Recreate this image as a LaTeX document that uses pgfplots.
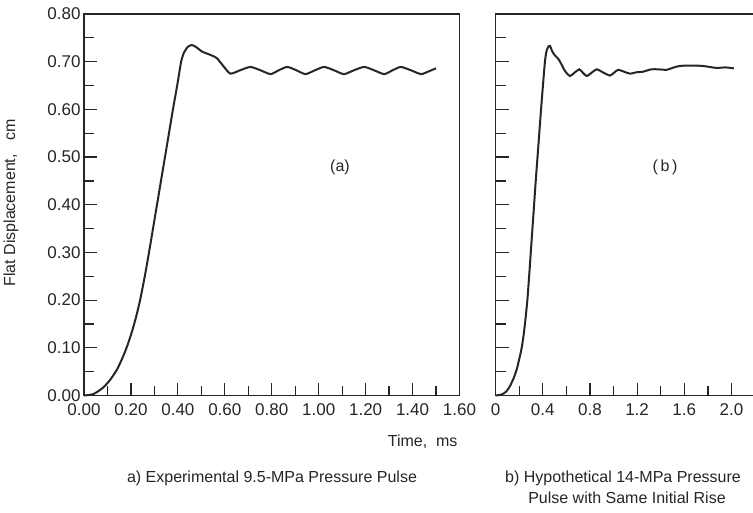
\documentclass[border=0pt]{standalone}
\usepackage{pgfplots}
\pgfplotsset{compat=1.18}
\usepackage{pgfplotstable}
\usepackage{fontspec}
\setmainfont{Liberation Sans}
\definecolor{ink}{HTML}{262626}

\pgfplotstableread{
t y
0 0
0.04 0.003
0.08 0.016
0.11 0.032
0.14 0.054
0.165 0.08
0.185 0.105
0.205 0.135
0.222 0.165
0.239 0.20
0.259 0.25
0.277 0.30
0.294 0.35
0.311 0.40
0.328 0.45
0.345 0.50
0.362 0.55
0.379 0.60
0.397 0.65
0.414 0.70
0.426 0.719
0.442 0.731
0.46 0.735
0.48 0.730
0.50 0.722
0.524 0.717
0.545 0.713
0.567 0.707
0.595 0.690
0.624 0.675
0.665 0.682
0.709 0.689
0.752 0.682
0.795 0.674
0.83 0.682
0.866 0.689
0.905 0.682
0.944 0.674
0.984 0.682
1.023 0.689
1.065 0.682
1.108 0.674
1.15 0.682
1.194 0.689
1.236 0.682
1.279 0.674
1.315 0.682
1.35 0.689
1.393 0.682
1.436 0.674
1.47 0.680
1.50 0.686
}\dataA

\pgfplotstableread{
t y
0 0
0.05 0.002
0.09 0.008
0.123 0.02
0.155 0.037
0.18 0.055
0.20 0.075
0.222 0.10
0.24 0.13
0.256 0.165
0.27 0.20
0.285 0.25
0.299 0.30
0.313 0.35
0.327 0.40
0.341 0.45
0.356 0.50
0.371 0.55
0.386 0.60
0.402 0.65
0.419 0.70
0.432 0.722
0.447 0.731
0.462 0.733
0.48 0.722
0.504 0.713
0.525 0.708
0.547 0.700
0.59 0.680
0.631 0.670
0.67 0.677
0.71 0.684
0.74 0.677
0.773 0.670
0.815 0.677
0.858 0.684
0.915 0.677
0.97 0.671
1.005 0.677
1.04 0.683
1.09 0.679
1.14 0.675
1.2 0.678
1.25 0.679
1.32 0.684
1.38 0.684
1.45 0.683
1.5 0.687
1.56 0.691
1.66 0.692
1.76 0.691
1.87 0.687
1.95 0.688
2.02 0.686
}\dataB

\pgfplotsset{
  common/.style={
    scale only axis,
    anchor=south west,
    ymin=0, ymax=0.8,
    tick align=inside,
    tick pos=left,
    axis line style={ink, line width=1.5pt},
    every tick/.append style={ink, line width=1.2pt},
    major tick length=13pt,
    minor tick length=10pt,
    ytick={0,0.1,0.2,0.3,0.4,0.5,0.6,0.7,0.8},
    minor ytick={0.05,0.15,0.25,0.35,0.45,0.55,0.65,0.75},
    tick label style={font=\fontsize{17}{19}\selectfont, text=ink},
    /pgf/number format/assume math mode=true,
    clip=false,
  }
}

\begin{document}
\begin{tikzpicture}
\useasboundingbox (0,0) rectangle (753pt,-512pt);
\fill[white] (0,0) rectangle (753pt,-512pt);

\begin{axis}[common,
  at={(84pt,-395.5pt)},
  width=375.5pt, height=381.5pt,
  xmin=0, xmax=1.6,
  xtick={0,0.2,0.4,0.6,0.8,1.0,1.2,1.4,1.6},
  minor xtick={0.1,0.3,0.5,0.7,0.9,1.1,1.3,1.5},
  xticklabels={0.00,0.20,0.40,0.60,0.80,1.00,1.20,1.40,1.60},
  yticklabels={0.00,0.10,0.20,0.30,0.40,0.50,0.60,0.70,0.80},
  xticklabel style={yshift=-5pt},
]
\addplot[ink, line width=2pt, smooth, tension=0.4] table[x=t, y=y] {\dataA};
\end{axis}

\begin{axis}[common,
  at={(495.5pt,-395.5pt)},
  width=259.6pt, height=381.5pt,
  xmin=0, xmax=2.2,
  xtick={0,0.4,0.8,1.2,1.6,2.0},
  minor xtick={0.2,0.6,1.0,1.4,1.8},
  xticklabels={0,0.4,0.8,1.2,1.6,2.0},
  xticklabel style={yshift=-5pt},
  yticklabels={},
]
\addplot[ink, line width=2pt, smooth, tension=0.4] table[x=t, y=y] {\dataB};
\end{axis}

\begin{scope}[every node/.style={text=ink, font=\fontsize{16}{18}\selectfont}]
\node at (340pt,-167pt) {(a)};
\node at (665pt,-167pt) {(\,b\,)};
\node[anchor=east] at (461pt,-442pt) {Time,~~ms};
\node at (272pt,-478pt) {a) Experimental 9.5-MPa Pressure Pulse};
\node at (623pt,-478pt) {b) Hypothetical 14-MPa Pressure};
\node at (627pt,-498pt) {Pulse with Same Initial Rise};
\node[rotate=90] at (11pt,-203pt) {Flat Displacement,~~~cm};
\end{scope}
\end{tikzpicture}
\end{document}
